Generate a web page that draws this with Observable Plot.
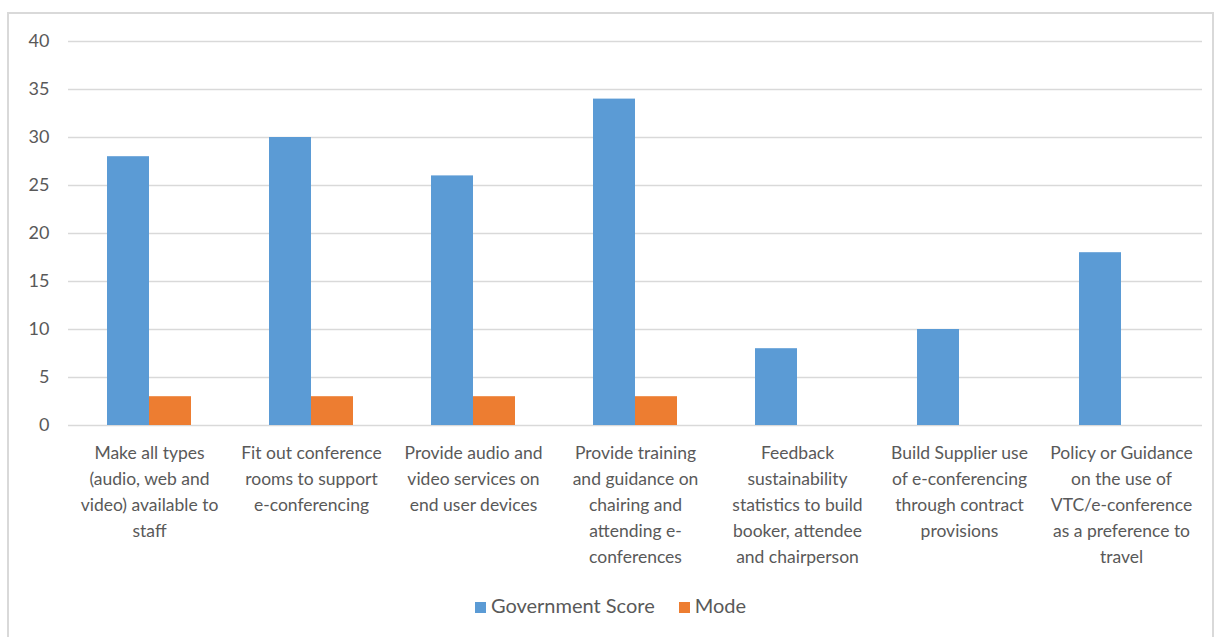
<!DOCTYPE html>
<html>
<head>
<meta charset="utf-8">
<script src="https://cdn.jsdelivr.net/npm/d3@7"></script>
<script src="https://cdn.jsdelivr.net/npm/@observablehq/plot@0.6"></script>
<style>
  html, body { margin: 0; padding: 0; background: #fff; }
  body { width: 1221px; height: 637px; overflow: hidden; position: relative; font-family: Lato, "Open Sans", sans-serif; }
  #frame { position: absolute; left: 7px; top: 12px; width: 1207px; height: 640px; border: 2px solid #d9d9d9; box-sizing: border-box; }
  #chart { position: absolute; left: 0; top: 0; }
  #legend { position: absolute; left: 0; width: 1221px; top: 593px; text-align: center; font-size: 20px; color: #595959; }
  #legend span.item { display: inline-block; margin: 0 12px; }
  #legend span.sw { display: inline-block; width: 11px; height: 11px; margin-right: 5px; vertical-align: 0px; }
</style>
</head>
<body>
<div id="frame"></div>
<div id="chart"></div>
<div id="legend"></div>
<script>
const categories = [
  "Make all types\n(audio, web and\nvideo) available to\nstaff",
  "Fit out conference\nrooms to support\ne-conferencing",
  "Provide audio and\nvideo services on\nend user devices",
  "Provide training\nand guidance on\nchairing and\nattending e-\nconferences",
  "Feedback\nsustainability\nstatistics to build\nbooker, attendee\nand chairperson",
  "Build Supplier use\nof e-conferencing\nthrough contract\nprovisions",
  "Policy or Guidance\non the use of\nVTC/e-conference\nas a preference to\ntravel"
];
const seriesNames = ["Government Score", "Mode"];
const seriesColors = ["#5b9bd5", "#ed7d31"];
const governmentScore = [28, 30, 26, 34, 8, 10, 18];
const mode = [3, 3, 3, 3, null, null, null];
const yTicks = [0, 5, 10, 15, 20, 25, 30, 35, 40];

const rows = [];
categories.forEach((c, i) => {
  if (governmentScore[i] != null) rows.push({cat: c, series: seriesNames[0], value: governmentScore[i]});
  if (mode[i] != null) rows.push({cat: c, series: seriesNames[1], value: mode[i]});
});

const chart = Plot.plot({
  width: 1221,
  height: 590,
  marginLeft: 66,
  marginRight: 17,
  marginTop: 41,
  marginBottom: 165,
  style: { fontFamily: "Lato, 'Open Sans', sans-serif", fontSize: "17.5px", color: "#595959", background: "transparent" },
  fx: { domain: categories, padding: 0, label: null },
  x: { domain: seriesNames, axis: null, paddingInner: 0, paddingOuter: 0.92 },
  y: { domain: [0, 40], label: null },
  color: { domain: seriesNames, range: seriesColors },
  marks: [
    Plot.ruleY(yTicks, { stroke: "#d9d9d9", strokeWidth: 1.3 }),
    Plot.barY(rows, { fx: "cat", x: "series", y: "value", fill: "series" }),
    Plot.axisFx({ anchor: "bottom", tickSize: 0, tickPadding: 15, lineHeight: 1.49, fontSize: 17.5, label: null }),
    Plot.axisY({ ticks: yTicks, tickSize: 0, tickPadding: 19, fontSize: 18, label: null })
  ]
});
document.getElementById("chart").appendChild(chart);

const legend = document.getElementById("legend");
seriesNames.forEach((s, i) => {
  const item = document.createElement("span");
  item.className = "item";
  const sw = document.createElement("span");
  sw.className = "sw";
  sw.style.background = seriesColors[i];
  item.appendChild(sw);
  item.appendChild(document.createTextNode(s));
  legend.appendChild(item);
});
</script>
</body>
</html>
